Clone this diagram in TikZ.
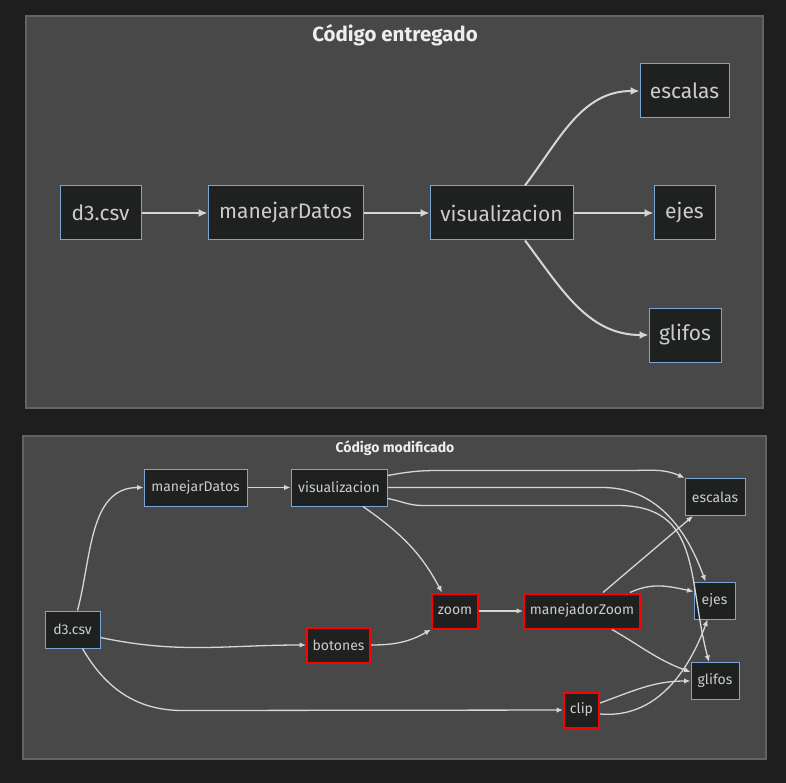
\documentclass[tikz,border=0pt]{standalone}
\usepackage{fontspec}
\setmainfont{Fira Sans}
\usetikzlibrary{arrows.meta}

\definecolor{fondo}{HTML}{1E1E1E}
\definecolor{panel}{HTML}{484848}
\definecolor{borde}{HTML}{636363}
\definecolor{caja}{HTML}{1F2020}
\definecolor{azul}{HTML}{7AA6D6}
\definecolor{rojo}{HTML}{FF0000}
\definecolor{texto}{HTML}{CCCCCC}
\definecolor{titulo}{HTML}{EEEEEE}
\definecolor{flecha}{HTML}{D6D6D6}

\tikzset{
  grande/.style={draw=azul,fill=caja,text=texto,font=\fontsize{21}{25}\selectfont,inner sep=0pt,minimum height=54pt,line width=1pt},
  chica/.style={draw=azul,fill=caja,text=texto,font=\fontsize{14}{17}\selectfont,inner sep=0pt,minimum height=37pt,line width=1pt},
  nuevo/.style={chica,draw=rojo,line width=2pt},
  flechaA/.style={draw=flecha,line width=2pt,-{Latex[length=9pt,width=8pt]}},
  flechaB/.style={draw=flecha,line width=1.3pt,-{Latex[length=6.5pt,width=5.5pt]}},
}

\begin{document}
\begin{tikzpicture}[x=1pt,y=1pt]
    \useasboundingbox (0,0) rectangle (786,-783);
    \fill[fondo] (0,0) rectangle (786,-783);
    \draw[borde,fill=panel,line width=1.5pt] (26,-16) rectangle (763,-408);
    \draw[borde,fill=panel,line width=1.5pt] (23,-436) rectangle (766,-759);
    \node[text=titulo,font=\fontsize{20.5}{24}\selectfont\bfseries] (tituloA) at (395,-35) {Código entregado};
    \node[text=titulo,font=\fontsize{14}{17}\selectfont\bfseries] (tituloB) at (395,-448) {Código modificado};

    \node[grande,minimum width=81pt] (d3A) at (100.5,-213) {d3.csv};
    \node[grande,minimum width=155pt] (datosA) at (285.5,-213) {manejarDatos};
    \node[grande,minimum width=143pt] (visA) at (501.5,-213) {visualizacion};
    \node[grande,minimum width=89pt] (escalasA) at (684.5,-91) {escalas};
    \node[grande,minimum width=61pt] (ejesA) at (684.5,-213) {ejes};
    \node[grande,minimum width=72pt] (glifosA) at (685,-335) {glifos};

    \draw[flechaA] (d3A) -- (datosA);
    \draw[flechaA] (datosA) -- (visA);
    \draw[flechaA] (visA) -- (ejesA);
    \draw[flechaA] ([xshift=23.5pt]visA.north) to[out=53,in=180] (escalasA);
    \draw[flechaA] ([xshift=23.5pt]visA.south) to[out=-53,in=180] (glifosA);

    \node[chica,minimum width=103pt] (datosB) at (195.5,-487.5) {manejarDatos};
    \node[chica,minimum width=96pt] (visB) at (339,-487.5) {visualizacion};
    \node[chica,minimum width=55pt] (d3B) at (72.5,-629.5) {d3.csv};
    \node[nuevo,minimum width=63pt,minimum height=35pt] (botones) at (338.5,-645) {botones};
    \node[nuevo,minimum width=46pt,minimum height=35pt] (zoom) at (455,-611) {zoom};
    \node[nuevo,minimum width=116pt,minimum height=35pt] (manejador) at (582,-611) {manejadorZoom};
    \node[chica,minimum width=60pt] (escalasB) at (715,-497) {escalas};
    \node[chica,minimum width=41pt] (ejesB) at (714.5,-600.5) {ejes};
    \node[chica,minimum width=48pt] (glifosB) at (715,-681) {glifos};
    \node[nuevo,minimum width=35pt,minimum height=35pt] (clip) at (581.5,-710) {clip};

    \draw[flechaB] ([xshift=5pt]d3B.north) to[out=75,in=180] (datosB);
    \draw[flechaB] ([yshift=-8pt]d3B.east) to[out=-12,in=180] (botones);
    \draw[flechaB] ([xshift=10pt]d3B.south) to[out=-60,in=180] ++(100,-62) -- (clip);
    \draw[flechaB] (datosB) -- (visB);
    \draw[flechaB] ([yshift=12pt]visB.east) to[out=10,in=180] ++(50,5) -- ++(190,0) to[out=0,in=155] (escalasB.north west);
    \draw[flechaB] (visB.east) -- ++(215,0) to[out=0,in=110] ([xshift=-9pt]ejesB.north);
    \draw[flechaB] ([yshift=-11pt]visB.east) to[out=-10,in=180] ++(35,-7) -- ++(195,0) to[out=0,in=105,looseness=1.2] ([xshift=-6pt]glifosB.north);
    \draw[flechaB] ([xshift=24pt]visB.south) to[out=-35,in=118] ([xshift=-13pt]zoom.north);
    \draw[flechaB] (botones.east) to[out=0,in=-150] (zoom.south west);
    \draw[flechaB] (zoom) -- (manejador);
    \draw[flechaB] ([xshift=21pt]manejador.north) -- ([xshift=-22pt]escalasB.south);
    \draw[flechaB] ([xshift=48pt]manejador.north) to[out=25,in=168] ([yshift=9pt]ejesB.west);
    \draw[flechaB] ([xshift=30pt]manejador.south) to[out=-30,in=160] ([yshift=9pt]glifosB.west);
    \draw[flechaB] ([yshift=7pt]clip.east) to[out=20,in=180] (glifosB.west);
    \draw[flechaB] ([yshift=-4pt]clip.east) to[out=-5,in=-110] ([xshift=-7pt]ejesB.south);
\end{tikzpicture}
\end{document}
